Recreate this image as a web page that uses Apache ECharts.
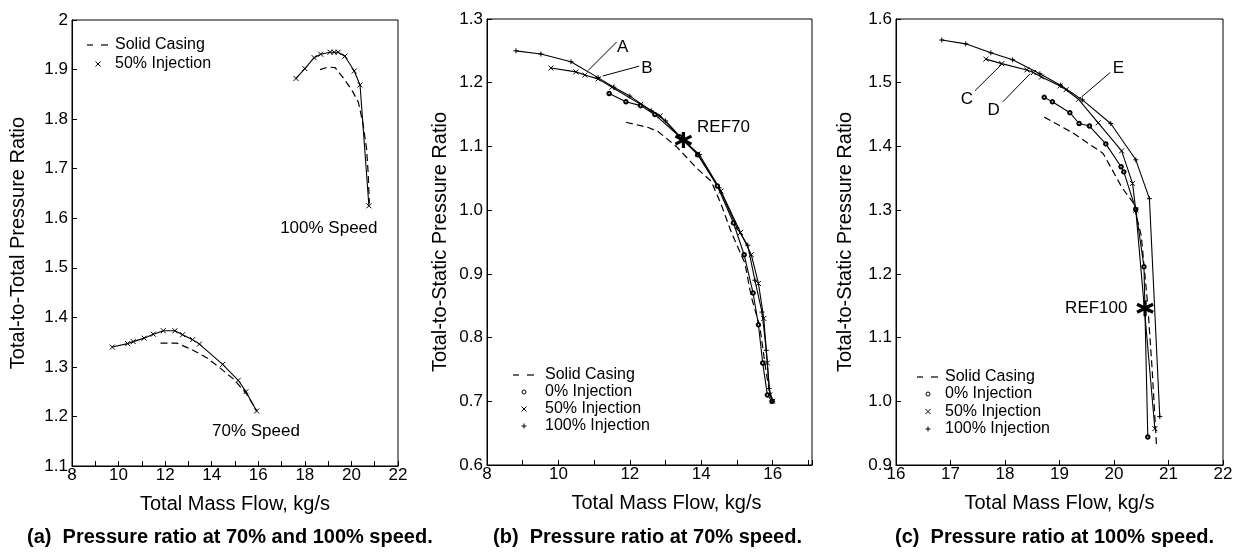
<!DOCTYPE html>
<html><head><meta charset="utf-8">
<script src="https://cdn.jsdelivr.net/npm/echarts@6/dist/echarts.min.js"></script>
<style>html,body{margin:0;padding:0;background:#fff}#c{width:1238px;height:556px}</style>
</head><body><div id="c"></div>
<script>
// ---------- Panel (a): total-to-total pressure ratio ----------
const a100Solid = [[18.65,1.900],[19.0,1.905],[19.3,1.904],[19.7,1.880],[20.05,1.856],[20.3,1.834],[20.5,1.79],[20.65,1.74],[20.72,1.69],[20.77,1.63]];
const a100Inj50 = [[17.62,1.882],[18.0,1.902],[18.4,1.924],[18.68,1.931],[19.08,1.935],[19.26,1.935],[19.43,1.935],[19.72,1.927],[20.12,1.897],[20.37,1.869],[20.75,1.625]];
const a70Solid = [[11.8,1.348],[12.5,1.348],[13.15,1.335],[13.8,1.318],[14.35,1.298],[14.95,1.275],[15.5,1.245],[15.93,1.212]];
const a70Inj50 = [[9.73,1.340],[10.39,1.347],[10.63,1.351],[11.10,1.358],[11.49,1.366],[11.92,1.373],[12.42,1.373],[12.75,1.365],[13.18,1.355],[13.47,1.346],[14.47,1.305],[15.14,1.273],[15.47,1.250],[15.93,1.211]];

// ---------- Panel (b): total-to-static, 70% speed ----------
const bSolid = [[11.89,1.138],[12.5,1.130],[12.8,1.123],[13.3,1.100],[13.87,1.066],[14.28,1.045],[14.55,1.010],[14.85,0.964],[15.22,0.917],[15.40,0.864],[15.64,0.817],[15.82,0.744],[15.94,0.707]];
const bInj0 = [[11.42,1.183],[11.89,1.170],[12.3,1.164],[12.7,1.150],[13.4,1.115],[13.9,1.087],[14.45,1.038],[14.9,0.980],[15.2,0.930],[15.45,0.870],[15.6,0.820],[15.72,0.760],[15.85,0.710],[15.98,0.700]];
const bInj50 = [[9.79,1.223],[10.49,1.217],[10.74,1.212],[11.11,1.206],[11.5,1.193],[12.3,1.166],[12.85,1.148],[13.45,1.112],[13.9,1.088],[14.55,1.030],[15.1,0.965],[15.4,0.930],[15.6,0.885],[15.75,0.830],[15.85,0.760],[15.92,0.710],[16.0,0.700]];
const bInj100 = [[8.81,1.250],[9.51,1.245],[10.35,1.233],[11.11,1.208],[11.55,1.193],[12.0,1.179],[12.6,1.156],[13.0,1.140],[13.5,1.110],[13.95,1.087],[14.5,1.035],[15.0,0.972],[15.3,0.945],[15.5,0.890],[15.7,0.840],[15.82,0.780],[15.9,0.720],[16.0,0.700]];
const bRef = [[13.5,1.110]];

// ---------- Panel (c): total-to-static, 100% speed ----------
const cSolid = [[18.72,1.446],[19.25,1.421],[19.80,1.389],[20.15,1.335],[20.35,1.312],[20.5,1.26],[20.62,1.15],[20.7,1.05],[20.78,0.93]];
const cInj0 = [[18.72,1.477],[18.87,1.470],[19.19,1.453],[19.36,1.436],[19.55,1.432],[19.85,1.404],[20.13,1.368],[20.18,1.360],[20.40,1.301],[20.55,1.211],[20.62,0.944]];
const cInj50 = [[17.65,1.537],[17.94,1.530],[18.40,1.520],[18.52,1.516],[18.67,1.509],[19.01,1.495],[19.12,1.489],[19.35,1.474],[19.71,1.437],[20.14,1.393],[20.34,1.342],[20.40,1.300],[20.75,0.957]];
const cInj100 = [[16.84,1.567],[17.28,1.561],[17.74,1.547],[18.14,1.536],[18.64,1.514],[19.02,1.496],[19.42,1.473],[19.94,1.436],[20.40,1.379],[20.65,1.318],[20.84,0.976]];
const cRef = [[20.57,1.146]];

// ---------- Text ----------
const captions = ['(a)  Pressure ratio at 70% and 100% speed.', '(b)  Pressure ratio at 70% speed.', '(c)  Pressure ratio at 100% speed.'];
const yTitles = ['Total-to-Total Pressure Ratio', 'Total-to-Static Pressure Ratio', 'Total-to-Static Pressure Ratio'];
const xTitle = 'Total Mass Flow, kg/s';
const seriesNames = ['Solid Casing', '0% Injection', '50% Injection', '100% Injection'];
// annotations in data coordinates
const labelNotes = [
  {grid:0, text:'100% Speed', at:[19.03,1.580]},
  {grid:0, text:'70% Speed', at:[15.90,1.169]},
  {grid:1, text:'A', at:[11.80,1.256]},
  {grid:1, text:'B', at:[12.48,1.223]},
  {grid:2, text:'C', at:[17.30,1.474]},
  {grid:2, text:'D', at:[17.79,1.457]},
  {grid:2, text:'E', at:[20.08,1.523]}
];
const leaderNotes = [
  {grid:1, from:[10.83,1.219], to:[11.63,1.264]},
  {grid:1, from:[11.24,1.2105], to:[12.26,1.226]},
  {grid:2, from:[17.45,1.4875], to:[17.94,1.529]},
  {grid:2, from:[17.96,1.470], to:[18.46,1.514]},
  {grid:2, from:[19.41,1.478], to:[19.93,1.516]}
];

const FONT = '"Liberation Sans", Arial, Helvetica, sans-serif';
const X_SYM = 'path://M0,0L10,10M10,0L0,10';
const PLUS_SYM = 'path://M5,0L5,10M0,5L10,5';
const STAR_SYM = 'path://M5,0L5,10M0.67,2.5L9.33,7.5M0.67,7.5L9.33,2.5';

const chart = echarts.init(document.getElementById('c'), null, {renderer:'canvas'});

const grids = [
  {left:72, top:20, width:326, height:446},
  {left:487, top:19, width:325, height:446},
  {left:896, top:19, width:327, height:446}
].map(g => Object.assign({show:true, borderColor:'#000', borderWidth:1, backgroundColor:'#fff', outerBoundsMode:'none', containLabel:false}, g));

function xAxis(i, min, max, evenOnly, extra) {
  return Object.assign({
    type:'value', gridIndex:i, min:min, max:max, interval:1,
    name:xTitle, nameLocation:'middle', nameGap:28,
    nameTextStyle:{color:'#000', fontSize:20, fontFamily:FONT},
    axisLine:{show:true, onZero:false, lineStyle:{color:'#000', width:1}},
    axisTick:{show:true, inside:true, length:5, lineStyle:{color:'#000'}},
    axisLabel:{color:'#000', fontSize:17, fontFamily:FONT, margin:1,
      formatter: v => evenOnly ? (Math.abs(v % 2) < 1e-9 ? String(v) : '') : String(v)},
    splitLine:{show:false}
  }, extra || {});
}
function yAxis(i, min, max, fixed, gap) {
  return {
    type:'value', gridIndex:i, min:min, max:max, interval:0.1,
    name:yTitles[i], nameLocation:'middle', nameRotate:90, nameGap:gap,
    nameTextStyle:{color:'#000', fontSize:20, fontFamily:FONT},
    axisLine:{show:true, onZero:false, lineStyle:{color:'#000', width:1}},
    axisTick:{show:true, inside:true, length:5, lineStyle:{color:'#000'}},
    axisLabel:{color:'#000', fontSize:17, fontFamily:FONT, margin:4,
      formatter: v => fixed ? (+v).toFixed(1) : String(+(+v).toFixed(1))},
    splitLine:{show:false}
  };
}

function lineSeries(name, data, gi, kind) {
  const s = {
    type:'line', name:name, data:data, xAxisIndex:gi, yAxisIndex:gi,
    lineStyle:{color:'#000', width:1.1, type:'solid', opacity:1},
    itemStyle:{color:'#000', borderColor:'#000', borderWidth:1, opacity:1},
    symbol:'none', symbolSize:5, showSymbol:true, silent:true, z:3
  };
  if (kind === 'dash') { s.lineStyle.type = [7,4]; s.lineStyle.width = 1.2; }
  else if (kind === 'o') { s.symbol = 'emptyCircle'; s.symbolSize = 3.5; s.itemStyle = {color:'#000', borderColor:'#000', borderWidth:0.9, opacity:1}; }
  else if (kind === 'x') { s.symbol = X_SYM; s.symbolSize = 5; }
  else if (kind === '+') { s.symbol = PLUS_SYM; s.symbolSize = 5; }
  return s;
}
function refSeries(name, data, gi, labelPos) {
  return {
    type:'scatter', name:name, data:data, xAxisIndex:gi, yAxisIndex:gi,
    symbol:STAR_SYM, symbolSize:16, z:5,
    itemStyle:{color:'#000', borderColor:'#000', borderWidth:3.2, opacity:1},
    label:{show:true, formatter:name, position:labelPos, color:'#000', opacity:1, textBorderWidth:0, fontSize:17, fontFamily:FONT,
      distance: labelPos === 'left' ? 8 : 4, offset: labelPos === 'left' ? [0,0] : [0,-13]}
  };
}

const series = [
  lineSeries(seriesNames[0], a100Solid, 0, 'dash'),
  lineSeries(seriesNames[2], a100Inj50, 0, 'x'),
  lineSeries(seriesNames[0], a70Solid, 0, 'dash'),
  lineSeries(seriesNames[2], a70Inj50, 0, 'x'),
  lineSeries(seriesNames[0], bSolid, 1, 'dash'),
  lineSeries(seriesNames[1], bInj0, 1, 'o'),
  lineSeries(seriesNames[2], bInj50, 1, 'x'),
  lineSeries(seriesNames[3], bInj100, 1, '+'),
  refSeries('REF70', bRef, 1, 'right'),
  lineSeries(seriesNames[0], cSolid, 2, 'dash'),
  lineSeries(seriesNames[1], cInj0, 2, 'o'),
  lineSeries(seriesNames[2], cInj50, 2, 'x'),
  lineSeries(seriesNames[3], cInj100, 2, '+'),
  refSeries('REF100', cRef, 2, 'left')
];

chart.setOption({
  animation:false,
  backgroundColor:'#fff',
  textStyle:{fontFamily:FONT, color:'#000'},
  title: [
    {text:captions[0], left:27, top:527},
    {text:captions[1], left:493, top:527},
    {text:captions[2], left:895, top:527}
  ].map(t => Object.assign(t, {padding:0, textStyle:{color:'#000', fontSize:20, fontWeight:'bold', fontFamily:FONT}})),
  grid: grids,
  xAxis: [
    xAxis(0, 8, 22, true),
    xAxis(1, 8, 17.1, true, {nameTextStyle:{color:'#000', fontSize:20, fontFamily:FONT, padding:[0,0,0,34]}}),
    xAxis(2, 16, 22, false)
  ],
  yAxis: [
    yAxis(0, 1.1, 2.0, false, 44),
    yAxis(1, 0.6, 1.3, true, 37),
    yAxis(2, 0.9, 1.6, true, 41)
  ],
  series: series
});

// ---------- legends & annotations (graphic) ----------
const g = [];
function txt(x, y, text, size, align) {
  g.push({type:'text', x:x, y:y, silent:true, z:10,
    style:{text:text, fontSize:size, fontFamily:FONT, fill:'#000', align:align || 'left', verticalAlign:'middle'}});
}
function seg(x1, y1, x2, y2, w) {
  g.push({type:'line', silent:true, z:10, shape:{x1:x1, y1:y1, x2:x2, y2:y2}, style:{stroke:'#000', lineWidth:w || 1}});
}
function marker(kind, x, y) {
  const r = 2.5;
  if (kind === 'x') { seg(x-r, y-r, x+r, y+r); seg(x-r, y+r, x+r, y-r); }
  else if (kind === '+') { seg(x, y-r, x, y+r); seg(x-r, y, x+r, y); }
  else if (kind === 'o') { g.push({type:'circle', silent:true, z:10, shape:{cx:x, cy:y, r:2}, style:{fill:'#fff', stroke:'#000', lineWidth:1}}); }
}
function legend(x0, textX, rows) {
  rows.forEach(r => {
    if (r.kind === 'dash') { seg(x0-11, r.y, x0-5, r.y, 1.2); seg(x0+3, r.y, x0+10, r.y, 1.2); }
    else marker(r.kind, x0, r.y);
    txt(textX, r.y, r.name, 16);
  });
}
legend(98, 115, [{kind:'dash', name:seriesNames[0], y:45}, {kind:'x', name:seriesNames[2], y:64}]);
legend(524, 545, [{kind:'dash', name:seriesNames[0], y:375}, {kind:'o', name:seriesNames[1], y:392}, {kind:'x', name:seriesNames[2], y:409}, {kind:'+', name:seriesNames[3], y:426}]);
legend(928, 945, [{kind:'dash', name:seriesNames[0], y:377}, {kind:'o', name:seriesNames[1], y:394}, {kind:'x', name:seriesNames[2], y:411.5}, {kind:'+', name:seriesNames[3], y:429}]);

labelNotes.forEach(n => {
  const p = chart.convertToPixel({gridIndex:n.grid}, n.at);
  txt(p[0], p[1], n.text, 17, 'center');
});
leaderNotes.forEach(n => {
  const p1 = chart.convertToPixel({gridIndex:n.grid}, n.from);
  const p2 = chart.convertToPixel({gridIndex:n.grid}, n.to);
  seg(p1[0], p1[1], p2[0], p2[1], 1);
});
chart.setOption({graphic:{elements:g}});
</script></body></html>
